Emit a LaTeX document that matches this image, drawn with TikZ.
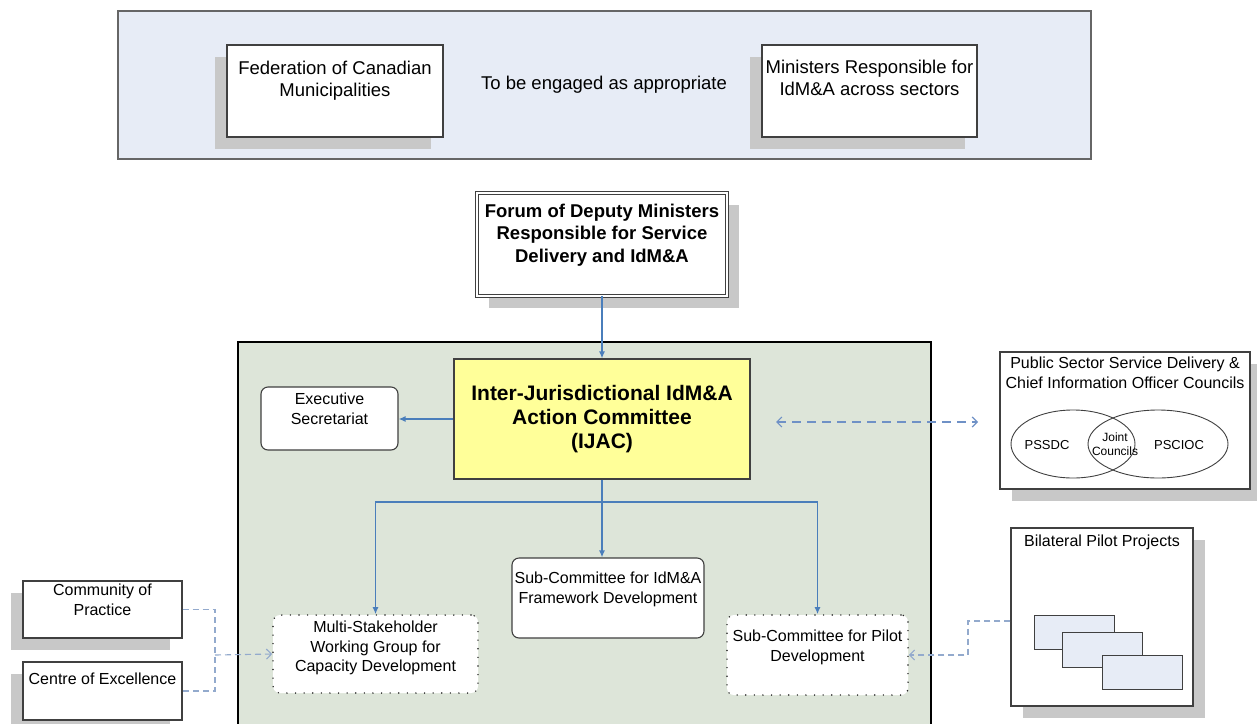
\documentclass[tikz,border=0pt]{standalone}
\usepackage{fontspec}
\setmainfont{Liberation Sans}
\usetikzlibrary{arrows.meta,shapes.geometric,shadows}
\definecolor{bandblue}{HTML}{E7ECF6}
\definecolor{panelgreen}{HTML}{DDE5D9}
\definecolor{ijacyellow}{HTML}{FFFF99}
\definecolor{shadowgrey}{HTML}{C8C8C8}
\definecolor{edgegrey}{HTML}{404040}
\definecolor{linkblue}{HTML}{4A7EBB}
\definecolor{dashblue}{HTML}{6F91C6}
\definecolor{paleblue}{HTML}{93AACD}
\newcommand{\boxtext}[4]{\parbox[c][#2][t]{#1}{\centering\vspace*{#3}#4}}
\tikzset{
  box/.style={draw=edgegrey, fill=white, line width=1.1pt, inner sep=0pt},
  rbox/.style={box, rounded corners=7pt},
  dotbox/.style={draw=black!85, fill=white, rounded corners=7pt, inner sep=0pt, line width=1.6pt, line cap=round, dash pattern=on 0pt off 8.6pt},
  shadowl/.style={drop shadow={shadow xshift=-12pt, shadow yshift=-12pt, fill=shadowgrey, opacity=1}},
  shadowr/.style={drop shadow={shadow xshift=12pt, shadow yshift=-12pt, fill=shadowgrey, opacity=1}},
  link/.style={draw=linkblue, line width=1.4pt, -{Latex[length=7pt,width=6pt]}},
  dlink/.style={draw=paleblue, line width=1.1pt, dash pattern=on 6pt off 4pt},
  barb/.style={-{Straight Barb[length=5pt,width=10pt]}},
  bigtext/.style={font=\fontsize{18.5}{22.5}\selectfont},
  midtext/.style={font=\fontsize{16}{19.5}\selectfont},
}
\begin{document}
\begin{tikzpicture}[x=1pt,y=-1pt]
\useasboundingbox (0,0) rectangle (1257,723);
\draw[draw=edgegrey!80, fill=bandblue, line width=1.2pt] (118,11) rectangle (1091,159);
\node[box, shadowl, bigtext] (fcm) at (335,91) {\boxtext{216pt}{92pt}{16pt}{Federation of Canadian\\Municipalities}};
\node[bigtext] (engage) at (604,85) {To be engaged as appropriate};
\node[box, shadowl, bigtext] (mins) at (869.5,91) {\boxtext{215pt}{92pt}{15pt}{Ministers Responsible for\\IdM\&A across sectors}};
\node[box, shadowr, bigtext, double=white, double distance=2pt, line width=0.8pt] (forum) at (602,244.5) {\boxtext{250pt}{103pt}{11pt}{\bfseries Forum of Deputy Ministers\\Responsible for Service\\Delivery and IdM\&A}};
\draw[line width=1.8pt, fill=panelgreen] (238,342) rectangle (931,735);
\node[draw=edgegrey, line width=1.1pt, fill=ijacyellow, minimum width=296pt, minimum height=120pt, align=center, font=\fontsize{21}{24}\selectfont\bfseries] (ijac) at (602,419) {Inter-Jurisdictional IdM\&A\\Action Committee\\(IJAC)};
\node[rbox, midtext] (exec) at (329.5,418.5) {\boxtext{137pt}{63pt}{6pt}{Executive\\Secretariat}};
\node[rbox, midtext] (frame) at (608,598) {\boxtext{192pt}{80pt}{14pt}{Sub-Committee for IdM\&A\\Framework Development}};
\node[dotbox, midtext] (msg) at (375.5,654) {\boxtext{205pt}{78pt}{6pt}{Multi-Stakeholder\\Working Group for\\Capacity Development}};
\node[dotbox, midtext] (pilot) at (817.5,655) {\boxtext{181pt}{80pt}{15pt}{Sub-Committee for Pilot\\Development}};
\draw[link] (forum.south) -- (ijac.north);
\draw[link] (ijac.west) -- (ijac.west -| exec.east);
\coordinate (split) at (602,502);
\draw[link] (ijac.south) -- (ijac.south |- frame.north);
\draw[link] (split) -| (msg.north);
\draw[link] (split) -| (pilot.north);
\node[box, shadowr, midtext] (psc) at (1125,420.5) {\boxtext{250pt}{137pt}{5pt}{Public Sector Service Delivery \&\\Chief Information Officer Councils}};
\node[ellipse, draw=edgegrey, line width=0.9pt, minimum width=124pt, minimum height=68pt] (pssdc) at (1073,444) {};
\node[ellipse, draw=edgegrey, line width=0.9pt, minimum width=140pt, minimum height=68pt] (pscioc) at (1158,444) {};
\node[font=\fontsize{13}{15}\selectfont] (pssdct) at (1047,445) {PSSDC};
\node[font=\fontsize{13}{15}\selectfont] (pscioct) at (1179,445) {PSCIOC};
\node[align=center, font=\fontsize{12}{14.5}\selectfont] (joint) at (1115,444) {Joint\\Councils};
\coordinate (dl) at (776,422);
\coordinate (dr) at (978,422);
\draw[draw=dashblue, line width=1.2pt, dash pattern=on 9pt off 6pt, {Straight Barb[length=5pt,width=10pt]}-{Straight Barb[length=5pt,width=10pt]}] (dl) -- (dr);
\node[box, shadowr, midtext] (bpp) at (1102,617) {\boxtext{182pt}{178pt}{7pt}{Bilateral Pilot Projects}};
\draw[edgegrey, fill=bandblue, line width=0.9pt] (1034,615) rectangle (1114,649);
\draw[edgegrey, fill=bandblue, line width=0.9pt] (1062,632) rectangle (1142,667);
\draw[edgegrey, fill=bandblue, line width=0.9pt] (1102,655) rectangle (1182,689);
\coordinate (rj) at (968,621);
\draw[dlink, barb] (rj -| bpp.west) -- (rj) |- (pilot.east);
\node[box, shadowl, midtext] (cop) at (102.5,609.5) {\boxtext{159pt}{57pt}{3pt}{Community of\\Practice}};
\node[box, shadowl, midtext] (coe) at (102.5,691) {\boxtext{159pt}{58pt}{11pt}{Centre of Excellence}};
\coordinate (lj) at (215,655);
\draw[dlink] (cop.east) -| (lj) |- (coe.east);
\draw[dlink, barb] (lj) -- (msg.west);
\end{tikzpicture}
\end{document}
